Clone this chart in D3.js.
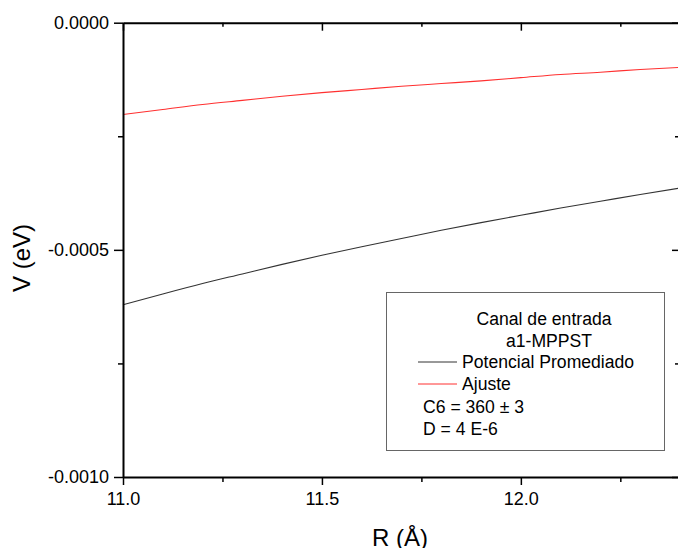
<!DOCTYPE html>
<html>
<head>
<meta charset="utf-8">
<script src="https://cdn.jsdelivr.net/npm/d3@7"></script>
<style>
  body { margin: 0; background: #fff; }
  svg { display: block; font-family: "Liberation Sans", Arial, sans-serif; }
  .axis path, .axis line { stroke: #000; }
  .axis path { stroke-width: 2; }
  .axis line { stroke-width: 1.5; }
  .axis text { font-size: 18px; fill: #000; font-family: "Liberation Sans", Arial, sans-serif; }
</style>
</head>
<body>
<div id="chart"></div>
<script>
// R values (Å) and potentials (eV)
const rValues = [11.0, 11.1, 11.2, 11.3, 11.4, 11.5, 11.6, 11.7, 11.8, 11.9, 12.0, 12.1, 12.2, 12.3, 12.4];
const promediado = [-0.000621, -0.000597, -0.000574, -0.000553, -0.000532, -0.000512, -0.000493, -0.000475,
                    -0.000457, -0.000440, -0.000424, -0.000408, -0.000393, -0.000378, -0.000364];
const ajuste = [-0.000202, -0.000191, -0.000180, -0.000171, -0.000162, -0.000154, -0.000147, -0.000140,
                -0.000134, -0.000128, -0.000121, -0.000114, -0.000109, -0.000103, -0.0000985];

const xMajor = [11.0, 11.5, 12.0];
const xMinor = [11.25, 11.75, 12.25];
const yMajor = [0, -0.0005, -0.0010];
const yMinor = [-0.00025, -0.00075];

const legendTitle = ["Canal de entrada", "a1-MPPST"];
const seriesNames = ["Potencial Promediado", "Ajuste"];
const seriesColors = ["#333", "#ff3030"];
const legendNotes = ["C6 = 360 \u00b1 3", "D = 4 E-6"];

const width = 678, height = 548;
const mLeft = 123, mRight = 680, mTop = 22.7, mBottom = 477;

const svg = d3.select("#chart").append("svg")
    .attr("width", width)
    .attr("height", height);

const x = d3.scaleLinear().domain([11, 12.4]).range([mLeft, mRight]);
const y = d3.scaleLinear().domain([-0.001, 0]).range([mBottom, mTop]);

// curves
const line = d3.line().x((d, i) => x(rValues[i])).y(d => y(d)).curve(d3.curveMonotoneX);
[promediado, ajuste].forEach((s, i) => {
    svg.append("path")
        .datum(s)
        .attr("fill", "none")
        .attr("stroke", seriesColors[i])
        .attr("stroke-width", 1.1)
        .attr("d", line);
});

// left axis
svg.append("g").attr("class", "axis")
    .attr("transform", `translate(${mLeft},0)`)
    .call(d3.axisLeft(y).tickValues(yMajor).tickSize(9).tickSizeOuter(0).tickPadding(5)
        .tickFormat(d => d.toFixed(4)));
svg.append("g").attr("class", "axis")
    .attr("transform", `translate(${mLeft},0)`)
    .call(d3.axisLeft(y).tickValues(yMinor).tickSize(5).tickSizeOuter(0).tickFormat(""))
    .select(".domain").remove();

// bottom axis
svg.append("g").attr("class", "axis")
    .attr("transform", `translate(0,${mBottom})`)
    .call(d3.axisBottom(x).tickValues(xMajor).tickSize(8).tickSizeOuter(0).tickPadding(7)
        .tickFormat(d3.format(".1f")));
svg.append("g").attr("class", "axis")
    .attr("transform", `translate(0,${mBottom})`)
    .call(d3.axisBottom(x).tickValues(xMinor).tickSize(5).tickSizeOuter(0).tickFormat(""))
    .select(".domain").remove();

// top axis (ticks inward)
svg.append("g").attr("class", "axis")
    .attr("transform", `translate(0,${mTop})`)
    .call(d3.axisBottom(x).tickValues(xMajor).tickSize(8).tickSizeOuter(0).tickFormat(""));
svg.append("g").attr("class", "axis")
    .attr("transform", `translate(0,${mTop})`)
    .call(d3.axisBottom(x).tickValues(xMinor).tickSize(4).tickSizeOuter(0).tickFormat(""))
    .select(".domain").remove();

// right axis (ticks inward)
svg.append("g").attr("class", "axis")
    .attr("transform", `translate(${mRight},0)`)
    .call(d3.axisLeft(y).tickValues(yMajor).tickSize(8).tickSizeOuter(0).tickFormat(""));
svg.append("g").attr("class", "axis")
    .attr("transform", `translate(${mRight},0)`)
    .call(d3.axisLeft(y).tickValues(yMinor).tickSize(5).tickSizeOuter(0).tickFormat(""))
    .select(".domain").remove();

// axis titles
svg.append("text")
    .attr("x", 428).attr("y", 546)
    .attr("text-anchor", "end")
    .attr("font-size", 24)
    .text("R (\u00c5)");

svg.append("text")
    .attr("transform", "translate(30,258) rotate(-90)")
    .attr("text-anchor", "middle")
    .attr("font-size", 24)
    .text("V (eV)");

// legend
const lg = svg.append("g");
lg.append("rect")
    .attr("x", 386.5).attr("y", 292.5)
    .attr("width", 278).attr("height", 158)
    .attr("fill", "#fff")
    .attr("stroke", "#666")
    .attr("stroke-width", 1);

legendTitle.forEach((t, i) => {
    lg.append("text")
        .attr("x", 544 + i * 5).attr("y", 325 + i * 21.5)
        .attr("text-anchor", "middle")
        .attr("font-size", 17.6)
        .text(t);
});

seriesNames.forEach((t, i) => {
    const yy = 362 + i * 22;
    lg.append("line")
        .attr("x1", 418).attr("x2", 457)
        .attr("y1", yy).attr("y2", yy)
        .attr("stroke", seriesColors[i])
        .attr("stroke-width", 1);
    lg.append("text")
        .attr("x", 462).attr("y", yy + 6)
        .attr("font-size", 17.6)
        .text(t);
});

legendNotes.forEach((t, i) => {
    lg.append("text")
        .attr("x", 423).attr("y", 413 + i * 22)
        .attr("font-size", 17.6)
        .text(t);
});
</script>
</body>
</html>
